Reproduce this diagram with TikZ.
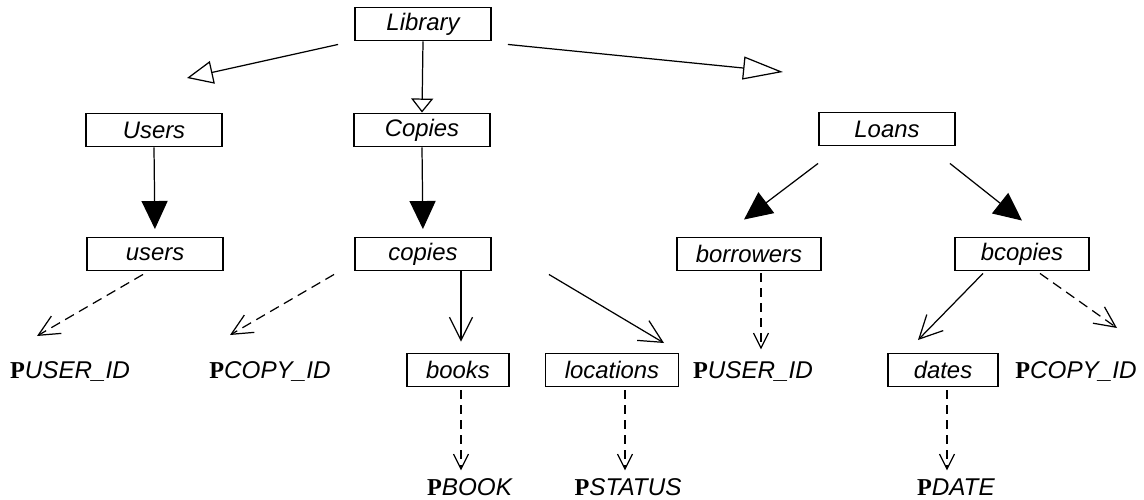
\documentclass[tikz,border=0pt]{standalone}
\usepackage{fontspec}
\setmainfont{Liberation Sans}
\newfontfamily\psetfont{Liberation Serif}
\usetikzlibrary{arrows.meta,calc}
\newcommand{\pset}[1]{{\psetfont\bfseries P}\textit{#1}}

\begin{document}
\begin{tikzpicture}[
x=0.02cm,y=-0.02cm,
box/.style={
  draw,
  line width=1.1pt,
  minimum width=2.72cm,
  minimum height=0.66cm,
  inner sep=0pt,
  font=\fontsize{13.6}{16}\selectfont\itshape
  },
attr/.style={
  inner sep=0pt,
  font=\fontsize{13.8}{16}\selectfont
  },
conn/.style={line width=0.7pt},
isa/.style={conn,-{Triangle[open,length=5.2mm,width=4.6mm]}},
isalong/.style={conn,-{Triangle[open,length=8mm,width=4.6mm]}},
isashort/.style={conn,-{Triangle[open,length=2.8mm,width=4.4mm]}},
has/.style={conn,-{Triangle[length=5.6mm,width=5.2mm]}},
part/.style={conn,-{Straight Barb[length=4.6mm,width=4.6mm]}},
ref/.style={conn,dash pattern=on 2mm off 1.2mm,-{Straight Barb[length=4.2mm,width=4mm]}},
refdown/.style={conn,dash pattern=on 1.8mm off 1.2mm,-{Straight Barb[length=3mm,width=3mm]}}
]
\useasboundingbox (0,0) rectangle (1144,500);

\node[box] (library) at (423,24) {Library};
\node[box] (Users) at (154,130) {Users};
\node[box] (Copies) at (422,130) {Copies};
\node[box] (Loans) at (887,129) {Loans};
\node[box] (users) at (155,254) {users};
\node[box] (copies) at (423,254) {copies};
\node[box,minimum width=2.88cm] (borrowers) at (749,254) {borrowers};
\node[box,minimum width=2.68cm] (bcopies) at (1022,254) {bcopies};
\node[box,minimum width=2.04cm] (books) at (458,370) {books};
\node[box,minimum width=2.66cm] (locations) at (612,370) {locations};
\node[box,minimum width=2.2cm] (dates) at (943,370) {dates};

\node[attr] (puser) at (70,372) {\pset{USER\_ID}};
\node[attr] (pcopy) at (270,372) {\pset{COPY\_ID}};
\node[attr] (puser2) at (753,372) {\pset{USER\_ID}};
\node[attr] (pcopy2) at (1076,372) {\pset{COPY\_ID}};
\node[attr] (pbook) at (470,487) {\pset{BOOK}};
\node[attr] (pstatus) at (628,487) {\pset{STATUS}};
\node[attr] (pdate) at (956,487) {\pset{DATE}};

\coordinate (tipUsers) at (187,78);
\coordinate (tipLoans) at (783,72);
\coordinate (tipPuser) at (37,336);
\coordinate (tipPcopy) at (230,335);
\coordinate (tipLoc) at (664,343);
\coordinate (tipDates) at (918,340);
\coordinate (tipPcopy2) at (1117,328);

\draw[isa] ($(library.south west)+(-16,3)$) -- (tipUsers);
\draw[isashort] (library.south) -- (Copies.north);
\draw[isalong] ($(library.south east)+(16,3)$) -- (tipLoans);
\draw[has,shorten >=1.5mm] (Users.south) -- (users.north);
\draw[has,shorten >=1.5mm] (Copies.south) -- (copies.north);
\draw[has] ($(Loans.south west)+(0,17)$) -- ($(borrowers.north)+(-5,-17)$);
\draw[has] ($(Loans.south east)+(-6,17)$) -- ($(bcopies.north)+(0,-16)$);
\draw[ref] ($(users.south)+(-12,3)$) -- (tipPuser);
\draw[ref] ($(copies.south west)+(-20,3)$) -- (tipPcopy);
\draw[part,shorten >=2.2mm] ($(copies.south)+(38,0)$) -- (books.north -| {$(copies.south)+(38,0)$});
\draw[part] ($(copies.south east)+(57,3)$) -- (tipLoc);
\draw[refdown] ($(borrowers.south)+(12,2)$) -- ($(borrowers.south)+(12,78)$);
\draw[part] ($(bcopies.south)+(-39,2)$) -- (tipDates);
\draw[ref] ($(bcopies.south)+(18,2)$) -- (tipPcopy2);
\draw[refdown] ($(books.south)+(3,3)$) -- ($(books.south)+(3,83)$);
\draw[refdown] ($(locations.south)+(13,3)$) -- ($(locations.south)+(13,83)$);
\draw[refdown] ($(dates.south)+(4,3)$) -- ($(dates.south)+(4,83)$);
\end{tikzpicture}
\end{document}
